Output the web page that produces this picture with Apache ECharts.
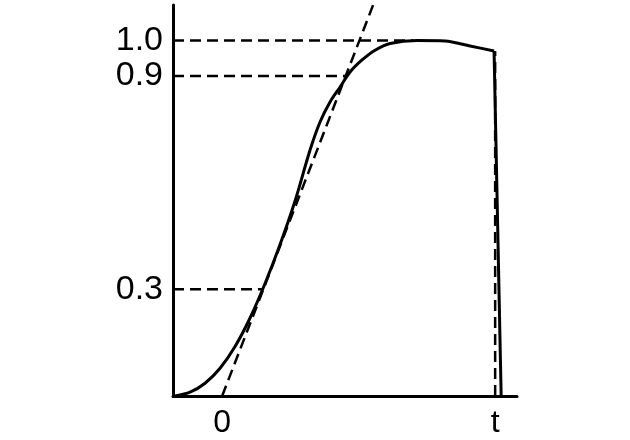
<!DOCTYPE html>
<html>
<head>
<meta charset="utf-8">
<script src="https://cdn.jsdelivr.net/npm/echarts@6/dist/echarts.min.js"></script>
<style>html,body{margin:0;padding:0;background:#fff;}#c{width:630px;height:440px;}</style>
</head>
<body>
<div id="c"></div>
<script>
// Response curve (x in units where 0 = tangent intercept, 1 = t)
const curveX = [-0.1725, -0.1176, -0.0626, -0.0077, 0.0473, 0.1022, 0.1571, 0.2121, 0.2670, 0.3220, 0.3586, 0.3952, 0.4319, 0.4685, 0.5124, 0.5601, 0.6150, 0.7139, 0.8165, 0.9081, 0.9960];
const curveY = [0, 0.0107, 0.0360, 0.0782, 0.1393, 0.2194, 0.3165, 0.4262, 0.5486, 0.6921, 0.7709, 0.8271, 0.8693, 0.9115, 0.9453, 0.9729, 0.9917, 1.0000, 0.9987, 0.9847, 0.9706];
// drop at the end
const dropX = [0.996, 1.022];
const dropY = [0.9706, 0];
// tangent (dashed)
const tangentX = [0, 0.553];
const tangentY = [0, 1.1];
// reference levels (dashed horizontals) and where they meet the curve
const levelY = [1.0, 0.9, 0.3];
const levelEndX = [0.70, 0.458, 0.148];
// vertical dashed at t
const tLineX = [1, 1];
const tLineY = [0, 0.970];
// axis labels
const xTickValues = [0, 1];
const xTickLabels = ['0', 't'];
const yTickValues = [0.3, 0.9, 1.0];
const yTickLabels = ['0.3', '0.9', '1.0'];

const xMin = -0.18, xMax = 1.08, yMin = 0, yMax = 1.1;
const zip = (a, b) => a.map((v, i) => [v, b[i]]);
const dashStyle = { color: '#000', width: 2.5, type: [11, 6] };

const series = [
  { type: 'line', data: zip(curveX, curveY), smooth: 0.3, showSymbol: false,
    lineStyle: { color: '#000', width: 3 }, z: 5 },
  { type: 'line', data: zip(dropX, dropY), showSymbol: false, lineStyle: { color: '#000', width: 3 }, z: 5 },
  { type: 'line', data: zip(tangentX, tangentY), showSymbol: false, lineStyle: dashStyle, z: 4 },
  { type: 'line', data: zip(tLineX, tLineY), showSymbol: false, lineStyle: dashStyle, z: 4 }
];
levelY.forEach((y, i) => {
  series.push({ type: 'line', data: [[xMin, y], [levelEndX[i], y]], showSymbol: false, lineStyle: dashStyle, z: 4 });
});

const chart = echarts.init(document.getElementById('c'), null, { renderer: 'canvas' });
chart.setOption({
  animation: false,
  backgroundColor: '#fff',
  grid: { left: 173, right: 113, top: 5, bottom: 44, containLabel: false },
  xAxis: {
    type: 'value', min: xMin, max: xMax,
    axisLine: { show: true, onZero: false, lineStyle: { color: '#000', width: 3 } },
    axisTick: { show: false },
    splitLine: { show: false },
    axisLabel: {
      customValues: xTickValues,
      formatter: v => xTickLabels[xTickValues.indexOf(v)] ?? '',
      color: '#000', fontSize: 32, fontFamily: 'Liberation Sans, Arial, sans-serif', margin: 11
    }
  },
  yAxis: {
    type: 'value', min: yMin, max: yMax,
    axisLine: { show: true, onZero: false, lineStyle: { color: '#000', width: 3 } },
    axisTick: { show: false },
    splitLine: { show: false },
    axisLabel: {
      customValues: yTickValues,
      formatter: v => { const i = yTickValues.findIndex(t => Math.abs(t - v) < 1e-9); return i >= 0 ? yTickLabels[i] : ''; },
      color: '#000', fontSize: 34, fontFamily: 'Liberation Sans, Arial, sans-serif', margin: 10
    }
  },
  series: series
});
</script>
</body>
</html>
